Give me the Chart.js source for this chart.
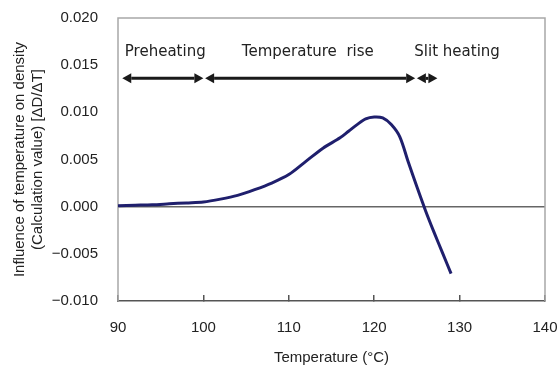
<!DOCTYPE html>
<html>
<head>
<meta charset="utf-8">
<script src="https://cdn.jsdelivr.net/npm/chart.js@4.4.1/dist/chart.umd.min.js"></script>
<style>
  html, body { margin: 0; padding: 0; background: #fff; }
  #wrap { width: 560px; height: 365px; }
</style>
</head>
<body>
<div id="wrap"><canvas id="chart" width="560" height="365"></canvas></div>
<script>
// curve, temperature (°C) vs dD/dT
const temps = [90, 92, 94, 96, 98, 100, 102, 104, 106, 108, 110, 112, 114, 116, 117, 118, 119, 120, 121, 122, 123, 124, 125, 126, 127, 128, 129];
const influence = [0.0001, 0.00015, 0.0002, 0.0003, 0.0004, 0.0005, 0.0008, 0.0012, 0.0018, 0.0025, 0.0034, 0.0048, 0.0062, 0.0073, 0.0080, 0.0087, 0.0093, 0.0095, 0.0094, 0.0087, 0.0074, 0.0047, 0.0021, -0.0004, -0.0027, -0.0049, -0.0071];

// process phases (temperature ranges shown by arrows)
const phaseNames = ['Preheating', 'Temperature  rise', 'Slit heating'];
const phaseFrom = [90.5, 100.2, 125.0];
const phaseTo = [100.0, 124.8, 127.4];
const phaseTextAt = [90.8, 104.5, 124.7];
const arrowLevel = 0.0136;
const textLevel = 0.0164;

const xTicks = [90, 100, 110, 120, 130, 140];
const yTicks = [-0.010, -0.005, 0.000, 0.005, 0.010, 0.015, 0.020];

const fmtY = v => (v < 0 ? '\u2212' : '') + Math.abs(v).toFixed(3);

// frame + arrows + phase names
const phasePlugin = {
  id: 'phases',
  beforeDatasetsDraw(chart) {
    const { ctx, chartArea: a } = chart;
    ctx.save();
    ctx.strokeStyle = '#a8a8a8';
    ctx.lineWidth = 1.5;
    ctx.beginPath();
    ctx.moveTo(a.left, a.bottom);
    ctx.lineTo(a.left, a.top);
    ctx.lineTo(a.right, a.top);
    ctx.lineTo(a.right, a.bottom);
    ctx.stroke();
    ctx.restore();
  },
  afterDatasetsDraw(chart) {
    const { ctx } = chart;
    const x = chart.scales.x, y = chart.scales.y;
    const ay = y.getPixelForValue(arrowLevel);
    const ty = y.getPixelForValue(textLevel);
    ctx.save();
    ctx.strokeStyle = '#1a1a1a';
    ctx.fillStyle = '#1a1a1a';
    ctx.lineWidth = 3;
    const head = 9, half = 5;
    for (let i = 0; i < phaseNames.length; i++) {
      const x1 = x.getPixelForValue(phaseFrom[i]);
      const x2 = x.getPixelForValue(phaseTo[i]);
      const h = Math.min(head, (x2 - x1) / 2);
      ctx.beginPath();
      ctx.moveTo(x1 + h, ay);
      ctx.lineTo(x2 - h, ay);
      ctx.stroke();
      ctx.beginPath();
      ctx.moveTo(x1, ay);
      ctx.lineTo(x1 + h, ay - half);
      ctx.lineTo(x1 + h, ay + half);
      ctx.closePath();
      ctx.fill();
      ctx.beginPath();
      ctx.moveTo(x2, ay);
      ctx.lineTo(x2 - h, ay - half);
      ctx.lineTo(x2 - h, ay + half);
      ctx.closePath();
      ctx.fill();
    }
    ctx.font = '15px "DejaVu Sans"';
    ctx.fillStyle = '#222';
    ctx.textAlign = 'left';
    ctx.textBaseline = 'middle';
    for (let i = 0; i < phaseNames.length; i++) {
      ctx.fillText(phaseNames[i], x.getPixelForValue(phaseTextAt[i]), ty);
    }
    ctx.restore();
  }
};

const ctx = document.getElementById('chart');
new Chart(ctx, {
  type: 'line',
  data: {
    datasets: [{
      label: 'dD/dT',
      data: temps.map((t, i) => ({ x: t, y: influence[i] })),
      borderColor: '#1f1f6d',
      borderWidth: 3,
      pointRadius: 0,
      tension: 0.3,
      fill: false
    }]
  },
  options: {
    responsive: false,
    animation: false,
    layout: { padding: { top: 18, right: 15, left: 0, bottom: 0 } },
    plugins: { legend: { display: false }, tooltip: { enabled: false } },
    scales: {
      x: {
        type: 'linear',
        min: 90,
        max: 140,
        afterBuildTicks: s => { s.ticks = xTicks.map(v => ({ value: v })); },
        afterFit: s => { s.height = 64; s.paddingLeft = 0; s.paddingRight = 0; },
        grid: { drawOnChartArea: false, drawTicks: true, tickLength: -6, color: '#555', lineWidth: 1.5 },
        border: { display: true, color: '#555', width: 1.5 },
        ticks: { color: '#222', padding: 24, font: { family: 'Liberation Sans', size: 15 }, maxRotation: 0 },
        title: {
          display: true,
          text: 'Temperature (°C)',
          color: '#222',
          font: { family: 'Liberation Sans', size: 15 },
          padding: { top: 0, bottom: -2 }
        }
      },
      y: {
        min: -0.010,
        max: 0.020,
        afterBuildTicks: s => { s.ticks = yTicks.map(v => ({ value: v })); },
        afterFit: s => { s.width = 118; s.paddingTop = 0; s.paddingBottom = 0; },
        grid: {
          drawTicks: false,
          color: c => (Math.abs(c.tick.value) < 1e-9 ? '#666' : 'rgba(0,0,0,0)'),
          lineWidth: 1.5
        },
        border: { display: false },
        ticks: { color: '#222', padding: 20, font: { family: 'Liberation Sans', size: 15 }, callback: v => fmtY(v) },
        title: {
          display: true,
          text: ['Influence of temperature on density', '(Calculation value) [\u0394D/\u0394T]'],
          color: '#222',
          font: { family: 'Liberation Sans', size: 15, lineHeight: 1.2 },
          padding: { top: 11, bottom: 0 }
        }
      }
    }
  },
  plugins: [phasePlugin]
});
</script>
</body>
</html>
